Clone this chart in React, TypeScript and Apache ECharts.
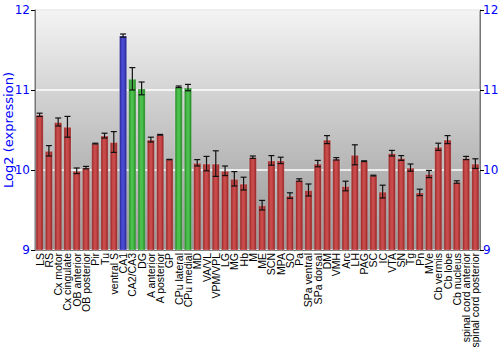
import React, { useEffect, useRef } from "react";
import * as echarts from "echarts";

const categories = [
  "LS", "RS", "Cx motor", "Cx cingulate", "OB anterior", "OB posterior", "Pir", "Tu", "ventral S",
  "CA1", "CA2/CA3", "DG", "A anterior", "A posterior", "GP", "CPu lateral", "CPu medial",
  "MD", "VA/VL", "VPM/VPL", "LG", "MG", "Hb", "M", "ME", "SCN", "MPA", "SO", "Pa",
  "SPa ventral", "SPa dorsal", "DM", "VMH", "Arc", "LH", "PAG", "SC", "IC", "VTA", "SN",
  "Tg", "Pn", "MVe", "Cb vermis", "Cb lobe", "Cb nucleus", "spinal cord anterior", "spinal cord posterior",
];

const values = [
  10.69, 10.24, 10.6, 10.54, 9.99, 10.03, 10.33, 10.43, 10.35,
  11.68, 11.14, 11.02, 10.38, 10.44, 10.13, 11.04, 11.03,
  10.09, 10.08, 10.08, 9.99, 9.89, 9.83, 10.16, 9.56, 10.12, 10.12, 9.68, 9.875,
  9.75, 10.08, 10.38, 10.14, 9.8, 10.19, 10.11, 9.93, 9.73, 10.21, 10.15,
  10.03, 9.72, 9.95, 10.29, 10.38, 9.85, 10.15, 10.08,
];

const errors = [
  0.02, 0.065, 0.05, 0.13, 0.035, 0.015, 0.005, 0.03, 0.13,
  0.02, 0.14, 0.08, 0.03, 0.005, 0.003, 0.01, 0.04,
  0.04, 0.09, 0.16, 0.06, 0.09, 0.08, 0.015, 0.06, 0.06, 0.04, 0.035, 0.015,
  0.075, 0.04, 0.05, 0.015, 0.06, 0.125, 0.005, 0.005, 0.08, 0.035, 0.03,
  0.045, 0.04, 0.045, 0.045, 0.05, 0.015, 0.02, 0.06,
];

const groups = [
  "r", "r", "r", "r", "r", "r", "r", "r", "r",
  "b", "g", "g", "r", "r", "r", "g", "g",
  "r", "r", "r", "r", "r", "r", "r", "r", "r", "r", "r", "r",
  "r", "r", "r", "r", "r", "r", "r", "r", "r", "r", "r",
  "r", "r", "r", "r", "r", "r", "r", "r",
];

const yTicks = [9, 10, 11, 12];

const palette: Record<string, [string, string]> = {
  r: ["#8c1f1f", "#c84a4a"],
  g: ["#1f7f1f", "#4cc04c"],
  b: ["#1f1f8c", "#4a4ad0"],
};

function barGradient(g: string) {
  const [dark, light] = palette[g];
  return new echarts.graphic.LinearGradient(0, 0, 1, 0, [
    { offset: 0, color: dark },
    { offset: 0.35, color: light },
    { offset: 0.6, color: light },
    { offset: 1, color: dark },
  ]);
}

export default function App() {
  const ref = useRef<HTMLDivElement>(null);
  useEffect(() => {
    if (!ref.current) return;
    const chart = echarts.init(ref.current, undefined, { renderer: "svg" });
    const labelStyle = {
      color: "#0000ff",
      fontSize: 12,
      fontFamily: "DejaVu Sans",
    };
    chart.setOption({
      animation: false,
      grid: {
        left: 35,
        right: 20,
        top: 10,
        bottom: 100,
        outerBoundsMode: "none",
        containLabel: false,
        show: true,
        borderColor: "#777",
        borderWidth: 1,
        backgroundColor: new echarts.graphic.LinearGradient(0, 0, 0, 1, [
          { offset: 0, color: "#f4f4f4" },
          { offset: 1, color: "#959595" },
        ]),
      },
      xAxis: {
        type: "category",
        data: categories,
        axisLine: { show: true, lineStyle: { color: "#777" } },
        axisTick: { show: false },
        axisLabel: {
          interval: 0,
          rotate: 90,
          fontSize: 10.5,
          fontFamily: "Liberation Sans",
          color: "#000",
          margin: 3,
        },
      },
      yAxis: [
        {
          type: "value",
          min: yTicks[0],
          max: yTicks[yTicks.length - 1],
          interval: 1,
          position: "left",
          name: "Log2 (expression)",
          nameLocation: "middle",
          nameGap: 20,
          nameMoveOverlap: false,
          nameTextStyle: { color: "#0000ff", fontSize: 13, fontFamily: "DejaVu Sans" },
          axisLine: { show: true, lineStyle: { color: "#777" } },
          axisTick: { show: true, length: 4, lineStyle: { color: "#000" } },
          axisLabel: { ...labelStyle, margin: 5 },
          splitLine: { show: true, lineStyle: { color: "#ffffff", width: 1.5 } },
        },
        {
          type: "value",
          min: yTicks[0],
          max: yTicks[yTicks.length - 1],
          interval: 1,
          position: "right",
          axisLine: { show: true, lineStyle: { color: "#777" } },
          axisTick: { show: true, length: 4, lineStyle: { color: "#000" } },
          axisLabel: { ...labelStyle, margin: 3 },
          splitLine: { show: false },
        },
      ],
      series: [
        {
          type: "bar",
          barCategoryGap: "12%",
          data: values.map((v, i) => ({
            value: v,
            itemStyle: {
              color: barGradient(groups[i]),
              borderColor: "rgba(255,255,255,0.25)",
              borderWidth: 1,
            },
          })),
        },
        {
          type: "custom",
          data: values.map((v, i) => [i, v, errors[i]]),
          renderItem: (params: any, api: any) => {
            const x = api.value(0);
            const v = api.value(1);
            const e = api.value(2);
            const top = api.coord([x, v + e]);
            const bot = api.coord([x, v - e]);
            const w = 3;
            const style = { stroke: "#111", lineWidth: 1.2 };
            return {
              type: "group",
              children: [
                { type: "line", shape: { x1: top[0], y1: top[1], x2: bot[0], y2: bot[1] }, style },
                { type: "line", shape: { x1: top[0] - w, y1: top[1], x2: top[0] + w, y2: top[1] }, style },
                { type: "line", shape: { x1: bot[0] - w, y1: bot[1], x2: bot[0] + w, y2: bot[1] }, style },
              ],
            };
          },
          z: 5,
        },
      ],
    });
    return () => chart.dispose();
  }, []);
  return (
    <div
      ref={ref}
      style={{ position: "absolute", left: 0, top: 0, width: 500, height: 350 }}
    />
  );
}
